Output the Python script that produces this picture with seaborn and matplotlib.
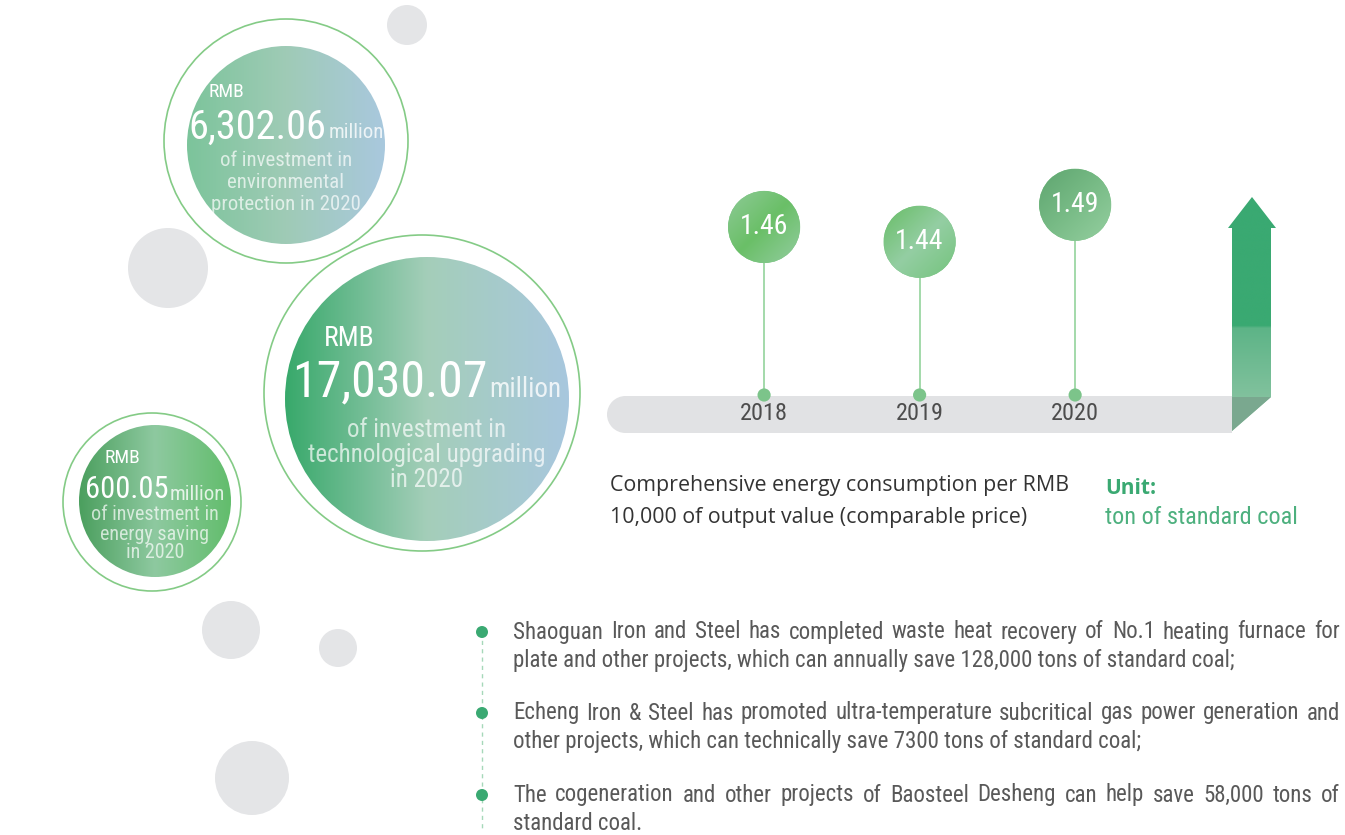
import matplotlib.pyplot as plt
import numpy as np
import pandas as pd
import seaborn as sns
from matplotlib.colors import LinearSegmentedColormap
from matplotlib.patches import Circle, Ellipse, Polygon, Rectangle

sns.set_theme(style="white")
COND = ["Roboto Condensed", "Liberation Sans Narrow", "DejaVu Sans"]
WIDE = ["Open Sans", "DejaVu Sans"]
plt.rcParams["font.family"] = COND

# ---- data ----
years = [2018, 2019, 2020]
energy_values = [1.46, 1.44, 1.49]
value_labels = ["1.46", "1.44", "1.49"]

invest_amounts = ["6,302.06", "17,030.07", "600.05"]
invest_captions = [
    ["of investment in", "environmental", "protection in 2020"],
    ["of investment in", "technological upgrading", "in 2020"],
    ["of investment in", "energy saving", "in 2020"],
]

desc_lines = [
    "Comprehensive energy consumption per RMB",
    "10,000 of output value (comparable price)",
]
unit_label = "Unit:"
unit_text = "ton of standard coal"

bullet_lines = [
    ["Shaoguan Iron and Steel has completed waste heat recovery of No.1 heating furnace for",
     "plate and other projects, which can annually save 128,000 tons of standard coal;"],
    ["Echeng Iron & Steel has promoted ultra-temperature subcritical gas power generation and",
     "other projects, which can technically save 7300 tons of standard coal;"],
    ["The cogeneration and other projects of Baosteel Desheng can help save 58,000 tons of",
     "standard coal."],
]

# ---- layout (pixels) ----
W, H = 1345, 835
GREEN = "#3aa972"
GREY_DOT = "#e4e5e7"
CIRCLE_LAYOUT = [
    dict(ring=(286, 141, 122), disc=(286, 145, 99),
         colors=["#7cc49b", "#9fcbb6", "#a9c8de"],
         num_fs=29, rmb_fs=14, mil_fs=15, cap_fs=15,
         rmb_y=92, num_y=127, cap_y0=160, cap_dy=22.5, indent=20),
    dict(ring=(422, 393, 158), disc=(427, 399, 142),
         colors=["#38a96b", "#a4ceb9", "#a8c7de"],
         num_fs=36, rmb_fs=20, mil_fs=19.5, cap_fs=18,
         rmb_y=338, num_y=382, cap_y0=430, cap_dy=25, indent=32),
    dict(ring=(152, 502, 89), disc=(155, 501, 76),
         colors=["#4b9f5e", "#8ec9a0", "#62bd6c"],
         num_fs=22, rmb_fs=14, mil_fs=15, cap_fs=14.5,
         rmb_y=458, num_y=490, cap_y0=515, cap_dy=19, indent=20),
]
GREY_CIRCLES = [(407, 25, 20), (168, 268, 40), (231, 630, 29), (338, 648, 19), (252, 778, 37)]

fig = plt.figure(figsize=(W / 100, H / 100), dpi=100)
ax = fig.add_axes([0, 0, 1, 1])
ax.set_xlim(0, W)
ax.set_ylim(H, 0)
ax.axis("off")
renderer = fig.canvas.get_renderer()


def gradient_fill(axis, clip, extent, colors, mode="h", zorder=2):
    cmap = LinearSegmentedColormap.from_list("g", colors)
    g = np.linspace(0, 1, 256)
    if mode == "h":
        arr = np.tile(g, (256, 1))
    elif mode == "v":
        arr = np.tile(g[:, None], (1, 256))
    else:
        xx, yy = np.meshgrid(g, g)
        arr = (xx + yy) / 2
    im = axis.imshow(arr, cmap=cmap, extent=extent, aspect="auto",
                     zorder=zorder, interpolation="bilinear")
    clip.set_transform(axis.transData)
    im.set_clip_path(clip)
    return im


def text_width(t):
    return t.get_window_extent(renderer).width


# grey decorative dots
for cx, cy, r in GREY_CIRCLES:
    ax.add_patch(Circle((cx, cy), r, color=GREY_DOT, lw=0, zorder=1))

# investment circles
for amount, caption, lay in zip(invest_amounts, invest_captions, CIRCLE_LAYOUT):
    rx, ry, rr = lay["ring"]
    ax.add_patch(Circle((rx, ry), rr, fill=False, ec="#84cb86", lw=1.2, zorder=2))
    dx, dy, dr = lay["disc"]
    ax.add_patch(Circle((dx, dy), dr, fc="white", lw=0, zorder=2))
    gradient_fill(ax, Circle((dx, dy), dr), (dx - dr, dx + dr, dy + dr, dy - dr),
                  lay["colors"], "h", zorder=3)
    num = ax.text(0, lay["num_y"], amount, fontsize=lay["num_fs"], color="white",
                  va="center", ha="left", zorder=5)
    mil = ax.text(0, lay["num_y"] + lay["num_fs"] * 0.2, "million", fontsize=lay["mil_fs"],
                  color="white", alpha=0.8, va="center", ha="left", zorder=5)
    wn, wm = text_width(num), text_width(mil)
    left = dx - (wn + wm + 2) / 2
    num.set_x(left)
    mil.set_x(left + wn + 2)
    ax.text(left + lay["indent"], lay["rmb_y"], "RMB", fontsize=lay["rmb_fs"], color="white",
            va="center", ha="left", zorder=5)
    for i, line in enumerate(caption):
        ax.text(dx, lay["cap_y0"] + i * lay["cap_dy"], line, fontsize=lay["cap_fs"],
                color="white", alpha=0.7, va="center", ha="center", zorder=5)

# grey timeline bar
ax.add_patch(Circle((625.5, 414.5), 18.5, color="#e1e2e4", lw=0, zorder=2))
ax.add_patch(Rectangle((625, 396), 1232 - 625, 37, color="#e1e2e4", lw=0, zorder=2))

# upward arrow
arrow = Polygon([(1252, 197), (1276, 228), (1271, 228), (1271, 397), (1232, 431),
                 (1232, 228), (1228, 228)], closed=True)
gradient_fill(ax, arrow, (1226, 1278, 431, 197),
              [(0, "#3aa972"), (0.55, "#3aa972"), (0.56, "#5db487"), (1, "#93c8a8")],
              "v", zorder=3)
ax.add_patch(Polygon([(1232, 397), (1271, 397), (1232, 431)], closed=True,
                     color="#7aa88f", lw=0, zorder=4))

# lollipop chart on its own axes
ylo, yhi = 1.233, 1.564
axl = fig.add_axes([607 / W, 1 - 395 / H, 633 / W, 245 / H])
axl.set_xlim(2016.99, 2021.06)
axl.set_ylim(ylo, yhi)
axl.axis("off")
df = pd.DataFrame({"year": years, "value": energy_values, "label": value_labels})
df["base"] = ylo
axl.vlines(df["year"], ylo, df["value"], color="#93d39c", lw=1.2, zorder=2)
sns.scatterplot(data=df, x="year", y="base", s=90, color="#7cc48a", edgecolor="none",
                legend=False, clip_on=False, zorder=3, ax=axl)
sns.scatterplot(data=df, x="year", y="value", s=2700, color="#80c78a", edgecolor="none",
                legend=False, clip_on=False, zorder=3, ax=axl)

px_year = 633 / (2021.06 - 2016.99)
px_val = 245 / (yhi - ylo)
rad = 36
bubble_colors = [
    ["#8fcb98", "#6abf67", "#93cda0"],
    ["#68bd66", "#94cea3", "#74c37c"],
    ["#5ea56f", "#78bb86", "#95cfa0"],
]
for (_, row), cols in zip(df.iterrows(), bubble_colors):
    ex, ey = rad / px_year, rad / px_val
    gradient_fill(axl, Ellipse((row["year"], row["value"]), 2 * ex, 2 * ey),
                  (row["year"] - ex, row["year"] + ex, row["value"] - ey, row["value"] + ey),
                  cols, "d", zorder=4)
    axl.text(row["year"], row["value"], row["label"], fontsize=20, color="white",
             ha="center", va="center", zorder=5)
    axl.annotate(str(row["year"]), (row["year"], ylo), xytext=(0, -13),
                 textcoords="offset points", ha="center", va="center",
                 fontsize=17.5, color="#4d4d4d", annotation_clip=False)
axl.set_xlim(2016.99, 2021.06)
axl.set_ylim(ylo, yhi)

# description and unit
for i, line in enumerate(desc_lines):
    ax.text(610, 485 + i * 33, line, fontsize=15.4, color="#333333", family=WIDE,
            va="center", ha="left", zorder=5)
ax.text(1105, 488, unit_label, fontsize=15, color=GREEN, weight="bold", family=WIDE,
        va="center", ha="left", zorder=5)
ax.text(1105, 518, unit_text, fontsize=17.5, color="#4db07e", va="center", ha="left", zorder=5)

# bullet list with justified lines
bullet_y = [632, 713, 795]
ax.plot([482, 482], [632, 830], color="#a6d8b9", lw=1, ls=(0, (3, 3)), zorder=2)
for y0, lines in zip(bullet_y, bullet_lines):
    ax.add_patch(Circle((482, y0), 6, color=GREEN, lw=0, zorder=3))
    for j, line in enumerate(lines):
        y = y0 + j * 28.5
        kw = dict(fontsize=16.5, color="#595959", va="center", ha="left", zorder=5)
        if j < len(lines) - 1:
            words = line.split()
            texts = [ax.text(0, y, w, **kw) for w in words]
            widths = [text_width(t) for t in texts]
            gap = (1340 - 513 - sum(widths)) / (len(words) - 1)
            x = 513
            for t, w in zip(texts, widths):
                t.set_x(x)
                x += w + gap
        else:
            ax.text(513, y, line, **kw)

ax.set_xlim(0, W)
ax.set_ylim(H, 0)
fig.savefig("out.png", dpi=100)
